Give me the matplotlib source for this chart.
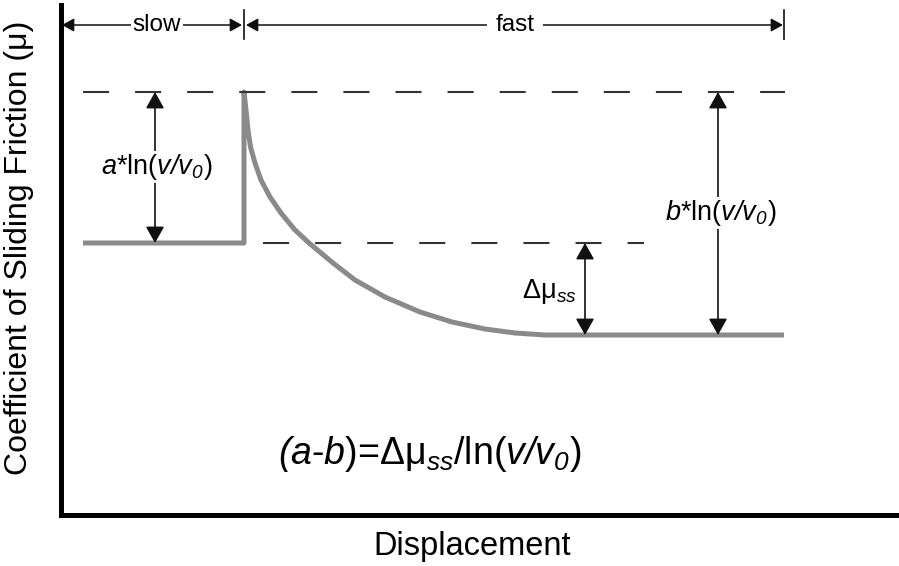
import matplotlib
matplotlib.use("Agg")
import matplotlib.pyplot as plt

plt.rcParams["font.family"] = ["Liberation Sans", "DejaVu Sans"]
plt.rcParams["mathtext.fontset"] = "custom"
plt.rcParams["mathtext.rm"] = "Liberation Sans"
plt.rcParams["mathtext.it"] = "Liberation Sans:italic"
# sf slot is used as a plain italic face (digits and slashes stay italic too)
plt.rcParams["mathtext.sf"] = "Liberation Sans:italic"

# friction levels (arbitrary units)
mu_slow = 272
mu_peak = 423
mu_fast = 180

# displacement landmarks (arbitrary units)
slow_start = 22
step_x = 183
end_x = 723
mid_dash = [202, 583]

# slow segment, jump and evolution to the new steady state
slide_x = [22, 183, 183, 185, 187, 189.5, 194, 200, 209, 220, 234, 248, 272, 294,
           324, 359, 391, 424, 454, 484, 723]
slide_mu = [272, 272, 423, 405, 385, 368, 352, 335, 318, 302, 285, 272, 252, 235,
            218, 203, 193, 186, 182, 180, 180]

GRAY = "#8a8a8a"
DASH = "#333333"
INK = "#111111"

fig = plt.figure(figsize=(8.99, 5.66), dpi=100)
ax = fig.add_axes([61 / 899, 51 / 566, 838 / 899, 510 / 566])
ax.set_xlim(0, 838)
ax.set_ylim(0, 510)
ax.set_xticks([])
ax.set_yticks([])
for side in ["top", "right"]:
    ax.spines[side].set_visible(False)
for side in ["left", "bottom"]:
    ax.spines[side].set_linewidth(3.6)
    ax.spines[side].set_color("black")
    ax.spines[side].set_capstyle("projecting")

ax.plot(slide_x, slide_mu, color=GRAY, lw=3.6, solid_joinstyle="round",
        solid_capstyle="butt", zorder=2)

# reference levels
ax.plot([slow_start, end_x + 1], [mu_peak, mu_peak], color=DASH, lw=1.5,
        linestyle=(0, (12.5, 12.5)), zorder=3)
ax.plot(mid_dash, [mu_slow, mu_slow], color=DASH, lw=1.5,
        linestyle=(0, (12.5, 12.5)), zorder=3)


def arrow(x0, y0, x1, y1, hl=0.5, hw=0.28, lw=1.2):
    ax.annotate("", xy=(x1, y1), xytext=(x0, y0),
                arrowprops=dict(arrowstyle=f"<|-|>,head_length={hl},head_width={hw}",
                                color=INK, lw=lw, shrinkA=0, shrinkB=0,
                                mutation_scale=20), zorder=4)


# velocity regimes along the top
y_top = 490
arrow(1, y_top, step_x - 2, y_top, hl=0.36, hw=0.2, lw=1.1)
arrow(step_x + 2, y_top, end_x - 1, y_top, hl=0.36, hw=0.2, lw=1.1)
for xt in [step_x, end_x]:
    ax.plot([xt, xt], [476, 505], color=INK, lw=1.2, zorder=4)
ax.text((1 + step_x) / 2 + 4, y_top, "slow", fontsize=17.5, ha="center", va="center",
        zorder=5, bbox=dict(facecolor="white", edgecolor="none", pad=1))
ax.text(454, y_top, "fast", fontsize=17.5, ha="center", va="center", zorder=5,
        bbox=dict(facecolor="white", edgecolor="none", pad=6))

# magnitude arrows
a_x = 94
b_x = 657
d_x = 524
arrow(a_x, mu_peak, a_x, mu_slow)
arrow(b_x, mu_peak, b_x, mu_fast)
arrow(d_x, mu_slow, d_x, mu_fast)

ax.text(a_x + 2, 348, r"$\mathsf{a}$*ln($\mathsf{v/v_{0}}$)", fontsize=19.5,
        ha="center", va="center", zorder=5,
        bbox=dict(facecolor="white", edgecolor="none", pad=1))
ax.text(b_x + 3, 302, r"$\mathsf{b}$*ln($\mathsf{v/v_{0}}$)", fontsize=19.5,
        ha="center", va="center", zorder=5,
        bbox=dict(facecolor="white", edgecolor="none", pad=1))
ax.text(d_x - 8, 223, r"$\mathrm{\Delta\mu}_{\mathsf{ss}}$", fontsize=19.5,
        ha="right", va="center", zorder=5)

ax.text(369, 61, r"$\mathsf{(a}$-$\mathsf{b}$)=$\mathrm{\Delta\mu}_{\mathsf{ss}}$/ln($\mathsf{v/v_{0}}$)",
        fontsize=27, ha="center", va="center")

fig.text(472 / 899, 1 - 546 / 566, "Displacement", fontsize=23.5, ha="center", va="center")
fig.text(19 / 899, 1 - 248 / 566, "Coefficient of Sliding Friction (μ)", fontsize=23,
         rotation=90, ha="center", va="center")

fig.savefig("out.png", dpi=100)
